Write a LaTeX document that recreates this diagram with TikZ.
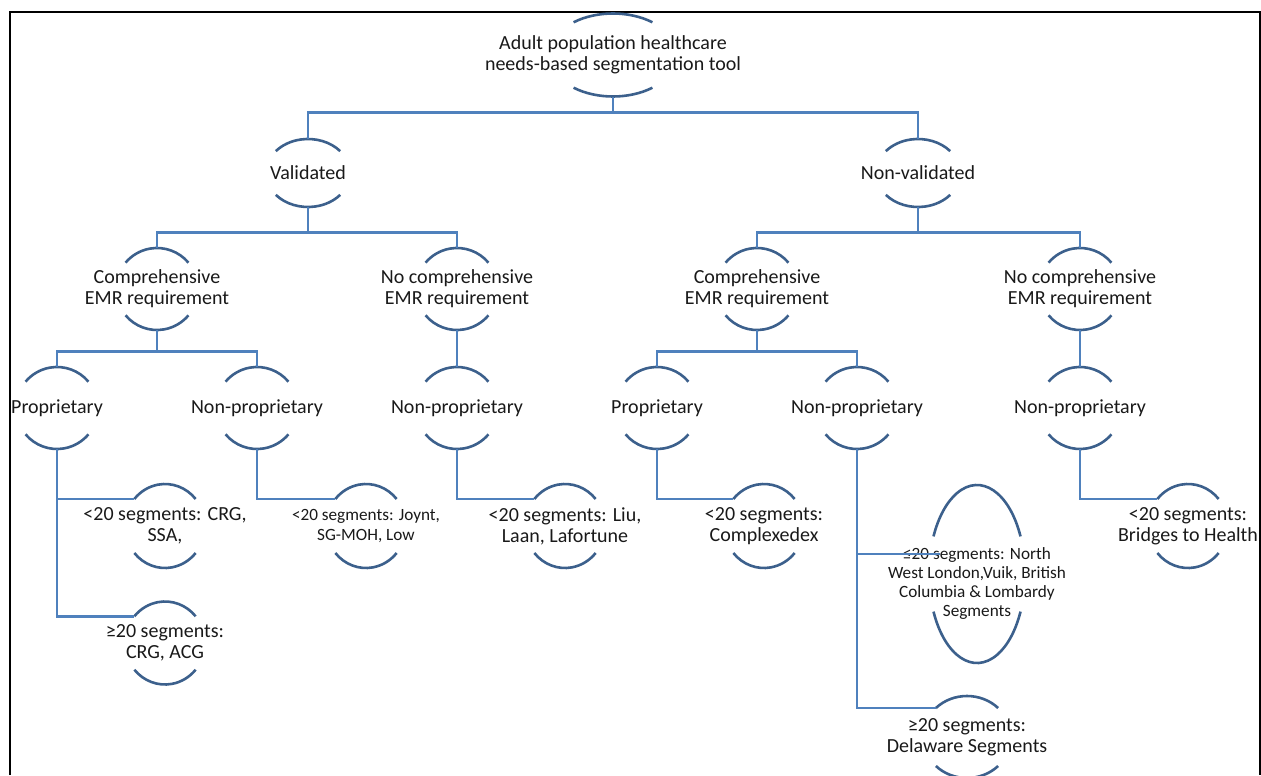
\documentclass[tikz,border=0pt]{standalone}
\usepackage{fontspec}
\setmainfont{Carlito}
\definecolor{linkblue}{RGB}{79,129,189}
\definecolor{capblue}{RGB}{60,96,140}
\definecolor{txt}{RGB}{25,25,25}
\tikzset{
  link/.style={draw=linkblue, line width=1.4pt},
  capline/.style={draw=capblue, line width=1.3pt},
  capnode/.style={align=center, inner sep=0pt, text=txt, font=\fontsize{10}{10.5}\selectfont},
  capsmall/.style={capnode, font=\fontsize{8.6}{9.6}\selectfont},
}
% top and bottom arcs of a node: name, x radius, y radius, start angle
\newcommand{\caps}[4]{%
  \draw[capline] ([shift={(#4:#2 and #3)}]#1.center) arc[start angle=#4, end angle=180-#4, x radius=#2, y radius=#3] coordinate (#1-tl);
  \draw[capline] ([shift={(180+#4:#2 and #3)}]#1.center) arc[start angle=180+#4, end angle=360-#4, x radius=#2, y radius=#3];
}
\begin{document}
\begin{tikzpicture}[x=0.5pt, y=0.5pt]
  \useasboundingbox (0,0) rectangle (1261,-775);
  \draw[line width=1pt] (10,-775) -- (10,-12) -- (1259.5,-12) -- (1259.5,-775);

  % top
  \node[capnode, minimum height=41.5pt] (root) at (613,-55) {Adult population healthcare\\needs-based segmentation tool};
  \caps{root}{64}{41.5}{52}

  % validation
  \node[capnode, minimum height=34pt] (val) at (308,-173) {Validated};
  \node[capnode, minimum height=34pt] (nval) at (918,-173) {Non-validated};
  \caps{val}{42}{34}{40}
  \caps{nval}{42}{34}{40}

  % EMR requirement
  \node[capnode, minimum height=41pt] (comp1) at (157,-289) {Comprehensive\\EMR requirement};
  \node[capnode, minimum height=41pt] (ncomp1) at (457,-289) {No comprehensive\\EMR requirement};
  \node[capnode, minimum height=41pt] (comp2) at (757,-289) {Comprehensive\\EMR requirement};
  \node[capnode, minimum height=41pt] (ncomp2) at (1080,-289) {No comprehensive\\EMR requirement};
  \caps{comp1}{41}{41}{40}
  \caps{ncomp1}{41}{41}{40}
  \caps{comp2}{41}{41}{40}
  \caps{ncomp2}{41}{41}{40}

  % licence
  \node[capnode, minimum height=41pt] (prop1) at (57,-408) {Proprietary};
  \node[capnode, minimum height=41pt] (np1) at (257,-408) {Non-proprietary};
  \node[capnode, minimum height=41pt] (np2) at (457,-408) {Non-proprietary};
  \node[capnode, minimum height=41pt] (prop2) at (657,-408) {Proprietary};
  \node[capnode, minimum height=41pt] (np3) at (857,-408) {Non-proprietary};
  \node[capnode, minimum height=41pt] (np4) at (1080,-408) {Non-proprietary};
  \caps{prop1}{41}{41}{40}
  \caps{np1}{41}{41}{40}
  \caps{np2}{41}{41}{40}
  \caps{prop2}{41}{41}{40}
  \caps{np3}{41}{41}{40}
  \caps{np4}{41}{41}{40}

  % segments
  \node[capnode, minimum height=42pt] (crgA) at (165,-526) {<20 segments: CRG,\\SSA,};
  \node[capsmall, minimum height=42pt] (joy) at (366,-526) {<20 segments: Joynt,\\SG-MOH, Low};
  \node[capnode, minimum height=42pt] (liu) at (565,-526) {<20 segments: Liu,\\Laan, Lafortune};
  \node[capnode, minimum height=42pt] (cmplx) at (764,-526) {<20 segments:\\Complexedex};
  \node[capnode, minimum height=42pt] (bth) at (1188,-526) {<20 segments:\\Bridges to Health};
  \node[capnode, minimum height=41.5pt] (crgB) at (165,-643) {≥20 segments:\\CRG, ACG};
  \node[capsmall, minimum height=89pt] (nwl) at (977,-574) {\rule{0pt}{15.5pt}≤20 segments: North\\West London,Vuik, British\\Columbia \& Lombardy\\Segments};
  \node[capnode, minimum height=41pt] (del) at (967,-737) {≥20 segments:\\Delaware Segments};
  \caps{crgA}{40}{42}{40}
  \caps{joy}{40}{42}{40}
  \caps{liu}{40}{42}{40}
  \caps{cmplx}{40}{42}{40}
  \caps{bth}{40}{42}{40}
  \caps{crgB}{40}{41.5}{40}
  \caps{nwl}{48}{89}{25}
  \caps{del}{44}{41}{45}
  \coordinate (nwl-in) at ([shift={(-37,20)}]nwl.center);

  % connectors
  \draw[link] (root.south) -- ++(0,-16) -| (val.north);
  \draw[link] (root.south) -- ++(0,-16) -| (nval.north);
  \draw[link] (val.south) -- ++(0,-25) -| (comp1.north);
  \draw[link] (val.south) -- ++(0,-25) -| (ncomp1.north);
  \draw[link] (nval.south) -- ++(0,-25) -| (comp2.north);
  \draw[link] (nval.south) -- ++(0,-25) -| (ncomp2.north);
  \draw[link] (comp1.south) -- ++(0,-21) -| (prop1.north);
  \draw[link] (comp1.south) -- ++(0,-21) -| (np1.north);
  \draw[link] (comp2.south) -- ++(0,-21) -| (prop2.north);
  \draw[link] (comp2.south) -- ++(0,-21) -| (np3.north);
  \draw[link] (ncomp1.south) -- (np2.north);
  \draw[link] (ncomp2.south) -- (np4.north);
  \draw[link] (prop1.south) |- (crgA-tl);
  \draw[link] (prop1.south) |- (crgB-tl);
  \draw[link] (np1.south) |- (joy-tl);
  \draw[link] (np2.south) |- (liu-tl);
  \draw[link] (prop2.south) |- (cmplx-tl);
  \draw[link] (np3.south) |- (nwl-in);
  \draw[link] (np3.south) |- (del-tl);
  \draw[link] (np4.south) |- (bth-tl);
\end{tikzpicture}
\end{document}
